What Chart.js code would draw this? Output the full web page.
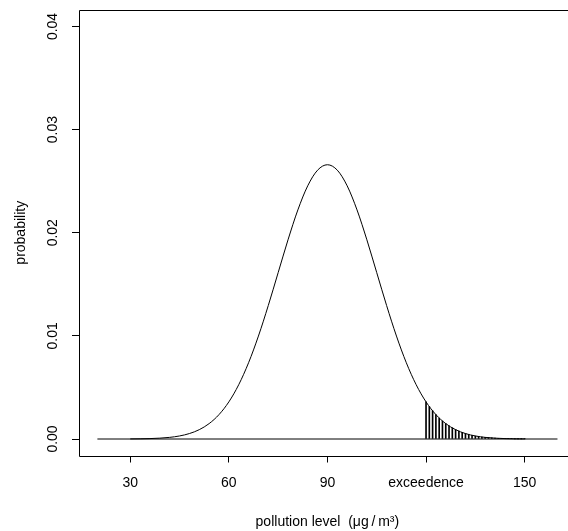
<!DOCTYPE html>
<html>
<head>
<meta charset="utf-8">
<script src="https://cdn.jsdelivr.net/npm/chart.js@4.4.1/dist/chart.umd.min.js"></script>
<style>
  html, body { margin: 0; padding: 0; background: #ffffff; overflow: hidden; }
  #wrap { width: 568px; height: 531px; }
</style>
</head>
<body>
<div id="wrap"><canvas id="c" width="568" height="531"></canvas></div>
<script>
// ---- data ----
const curveX = [30,33,36,39,42,45,48,51,54,57,60,63,66,69,72,75,78,81,84,87,90,
                93,96,99,102,105,108,111,114,117,120,123,126,129,132,135,138,141,144,147,150];
const curveY = [0.0000089,0.0000195,0.0000408,0.0000822,0.000159,0.000295,0.000528,0.000906,0.001493,0.002365,
                0.003599,0.005263,0.007395,0.009982,0.012946,0.016131,0.019313,0.022215,0.024551,0.026069,
                0.026596,
                0.026069,0.024551,0.022215,0.019313,0.016131,0.012946,0.009982,0.007395,0.005263,0.003599,
                0.002365,0.001493,0.000906,0.000528,0.000295,0.000159,0.0000822,0.0000408,0.0000195,0.0000089];
const hatchX = [120,121,122,123,124,125,126,127,128,129,130,131,132,133,134,135,
                136,137,138,139,140,141,142,143,144,145,146,147,148,149,150];
const hatchY = [0.003599,0.003143,0.002733,0.002365,0.002038,0.001748,0.001493,0.001270,0.001074,0.000906,
                0.000760,0.000635,0.000528,0.000437,0.000360,0.000295,0.000241,0.000196,0.000159,0.000128,
                0.000103,0.0000822,0.0000654,0.0000518,0.0000408,0.0000320,0.0000250,0.0000195,0.0000151,0.0000116,0.0000089];
const baseX = [20, 160];
const baseY = [0, 0];
const xTickValues = [30, 60, 90, 120, 150];
const xTickLabels = ['30', '60', '90', 'exceedence', '150'];
const yTickValues = [0, 0.01, 0.02, 0.03, 0.04];
const yTickLabels = ['0.00', '0.01', '0.02', '0.03', '0.04'];
const xTitle = '  pollution level  (\u03BCg\u2009/\u2009m\u00B3)';
const yTitle = 'probability';

const pts = (xs, ys) => xs.map((x, i) => ({x: x, y: ys[i]}));
const FONT = 'Liberation Sans, Arial, Helvetica, sans-serif';

const boxPlugin = {
  id: 'rbox',
  afterDatasetsDraw(chart) {
    const {ctx, chartArea: a} = chart;
    ctx.save();
    ctx.strokeStyle = '#000';
    ctx.lineWidth = 1;
    ctx.beginPath();
    ctx.moveTo(chart.width, Math.round(a.top) + 0.5);
    ctx.lineTo(Math.round(a.left) + 0.5, Math.round(a.top) + 0.5);
    ctx.lineTo(Math.round(a.left) + 0.5, Math.round(a.bottom) + 0.5);
    ctx.lineTo(chart.width, Math.round(a.bottom) + 0.5);
    ctx.stroke();
    ctx.restore();
  }
};

new Chart(document.getElementById('c'), {
  type: 'line',
  data: {
    datasets: [
      {
        type: 'bar',
        data: pts(hatchX, hatchY),
        backgroundColor: '#000',
        borderWidth: 0,
        barThickness: 1,
        order: 3
      },
      {
        type: 'line',
        data: pts(baseX, baseY),
        borderColor: '#000',
        borderWidth: 1,
        pointRadius: 0,
        fill: false,
        order: 2
      },
      {
        type: 'line',
        data: pts(curveX, curveY),
        borderColor: '#000',
        borderWidth: 1,
        pointRadius: 0,
        fill: false,
        cubicInterpolationMode: 'monotone',
        order: 1
      }
    ]
  },
  options: {
    responsive: false,
    animation: false,
    devicePixelRatio: 1,
    layout: { padding: { top: 10, left: 0, right: 0, bottom: 0 } },
    plugins: { legend: { display: false }, tooltip: { enabled: false } },
    scales: {
      x: {
        type: 'linear',
        position: 'bottom',
        offset: false,
        min: 14.4,
        max: 163.2,
        afterBuildTicks(scale) { scale.ticks = xTickValues.map(v => ({value: v})); },
        afterFit(scale) {
          scale.height = 75.5;
          scale.paddingLeft = 0; scale.paddingRight = 0;
          scale.paddingTop = 0; scale.paddingBottom = 0;
        },
        border: { display: false },
        grid: { display: true, offset: false, drawOnChartArea: false, drawTicks: true, tickLength: 7, color: '#000', lineWidth: 1 },
        ticks: {
          autoSkip: false, maxRotation: 0, minRotation: 0, padding: 12,
          color: '#000', font: { family: FONT, size: 14 },
          callback: (v, i) => xTickLabels[i]
        },
        title: { display: true, text: xTitle, color: '#000', font: { family: FONT, size: 14 }, padding: { top: 0, bottom: 0 } }
      },
      y: {
        type: 'linear',
        position: 'left',
        min: -0.0016,
        max: 0.0416,
        afterBuildTicks(scale) { scale.ticks = yTickValues.map(v => ({value: v})); },
        afterFit(scale) {
          scale.width = 79;
          scale.paddingLeft = 0; scale.paddingRight = 0;
          scale.paddingTop = 0; scale.paddingBottom = 0;
        },
        border: { display: false },
        grid: { display: true, drawOnChartArea: false, drawTicks: true, tickLength: 7, color: '#000', lineWidth: 1 },
        ticks: {
          autoSkip: false, minRotation: 90, maxRotation: 90, crossAlign: 'center', padding: 5,
          color: '#000', font: { family: FONT, size: 14 },
          callback: (v, i) => yTickLabels[i]
        },
        title: { display: true, text: yTitle, color: '#000', font: { family: FONT, size: 14 }, padding: { top: 13, bottom: 0 } }
      }
    }
  },
  plugins: [boxPlugin]
});
</script>
</body>
</html>
